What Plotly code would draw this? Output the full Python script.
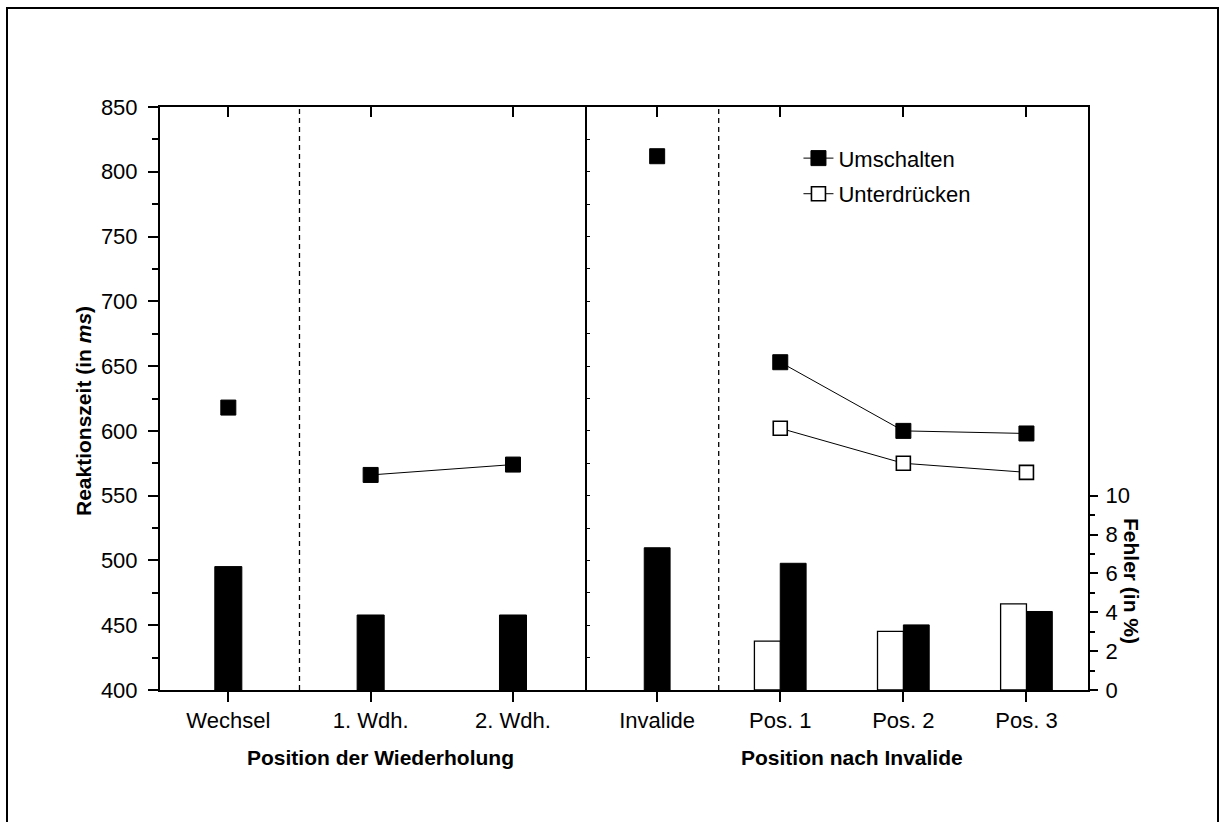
import plotly.graph_objects as go

# ---- data ----
cats_left = ["Wechsel", "1. Wdh.", "2. Wdh."]
cats_right = ["Invalide", "Pos. 1", "Pos. 2", "Pos. 3"]

rt_umschalten_left = [618, 566, 574]
rt_umschalten_right = [812, 653, 600, 598]
rt_unterdruecken_right = [None, 602, 575, 568]

err_umschalten_left = [6.35, 3.86, 3.86]
err_umschalten_right = [7.32, 6.52, 3.35, 4.04]
err_unterdruecken_right = [None, 2.52, 3.02, 4.43]

rt_ticks = [400, 450, 500, 550, 600, 650, 700, 750, 800, 850]
err_ticks = [0, 2, 4, 6, 8, 10]
err_minor = [1, 3, 5, 7, 9]

FONT = "Liberation Sans, Arial, sans-serif"
idx_l = list(range(len(cats_left)))
idx_r = list(range(len(cats_right)))

fig = go.Figure()

# bars (error rates) on right axis
fig.add_trace(go.Bar(x=idx_l, y=err_umschalten_left, xaxis="x", yaxis="y2", width=0.19,
                     marker=dict(color="black", line=dict(color="black", width=1)),
                     showlegend=False))
fig.add_trace(go.Bar(x=idx_r, y=err_umschalten_right, xaxis="x2", yaxis="y2", width=0.21,
                     offset=[-0.105, 0, 0, 0],
                     marker=dict(color="black", line=dict(color="black", width=1)),
                     showlegend=False))
fig.add_trace(go.Bar(x=idx_r[1:], y=err_unterdruecken_right[1:], xaxis="x2", yaxis="y2", width=0.21,
                     offset=-0.21,
                     marker=dict(color="white", line=dict(color="black", width=1.3)),
                     showlegend=False))

mk_fill = dict(symbol="square", size=15, color="black", line=dict(color="black", width=1))
mk_open = dict(symbol="square", size=14, color="white", line=dict(color="black", width=1.6))
ln = dict(color="black", width=1)

# reaction times, left panel
fig.add_trace(go.Scatter(x=idx_l[:1], y=rt_umschalten_left[:1], xaxis="x", yaxis="y",
                         mode="markers", marker=mk_fill, showlegend=False))
fig.add_trace(go.Scatter(x=idx_l[1:], y=rt_umschalten_left[1:], xaxis="x", yaxis="y",
                         mode="lines+markers", marker=mk_fill, line=ln, showlegend=False))
# right panel
fig.add_trace(go.Scatter(x=idx_r[:1], y=rt_umschalten_right[:1], xaxis="x2", yaxis="y",
                         mode="markers", marker=mk_fill, showlegend=False))
fig.add_trace(go.Scatter(x=idx_r[1:], y=rt_umschalten_right[1:], xaxis="x2", yaxis="y",
                         mode="lines+markers", marker=mk_fill, line=ln, name="Umschalten",
                         legendgroup="a"))
fig.add_trace(go.Scatter(x=idx_r[1:], y=rt_unterdruecken_right[1:], xaxis="x2", yaxis="y",
                         mode="lines+markers", marker=mk_open, line=ln, name="Unterdrücken",
                         legendgroup="b"))

# empty helper traces so the frame axes (top ticks, middle divider) get drawn
for xa, ya in [("x3", "y"), ("x4", "y"), ("x2", "y3")]:
    fig.add_trace(go.Scatter(x=[None], y=[None], xaxis=xa, yaxis=ya, mode="markers",
                             showlegend=False, hoverinfo="skip"))

split = 427 / 928
axis_common = dict(showline=True, linecolor="black", linewidth=2, showgrid=False,
                   zeroline=False, tickcolor="black", tickwidth=1.5,
                   tickfont=dict(family=FONT, size=22, color="black"))
frame_common = dict(showline=True, linecolor="black", linewidth=2, showgrid=False,
                    zeroline=False, tickcolor="black", showticklabels=False)

fig.update_layout(
    width=1223, height=822,
    margin=dict(l=160, r=135, t=107, b=132),
    paper_bgcolor="white", plot_bgcolor="white",
    barmode="overlay",
    font=dict(family=FONT, color="black"),
    xaxis=dict(domain=[0, split], range=[-0.48, 2.52], anchor="y",
               tickvals=idx_l, ticktext=cats_left, ticks="outside", ticklen=10,
               **axis_common),
    xaxis2=dict(domain=[split, 1], range=[-0.57, 3.5], anchor="y",
                tickvals=idx_r, ticktext=cats_right, ticks="outside", ticklen=10,
                **axis_common),
    xaxis3=dict(overlaying="x", side="top", anchor="y", range=[-0.48, 2.52],
                tickvals=idx_l, ticks="inside", ticklen=10, tickwidth=1.5, **frame_common),
    xaxis4=dict(overlaying="x2", side="top", anchor="y", range=[-0.57, 3.5],
                tickvals=idx_r, ticks="inside", ticklen=10, tickwidth=1.5, **frame_common),
    yaxis=dict(range=[400, 850], anchor="x", side="left", tickvals=rt_ticks,
               ticks="outside", ticklen=10, ticklabelstandoff=6,
               minor=dict(dtick=25, ticks="outside", ticklen=6, tickcolor="black", tickwidth=1.5),
               **axis_common),
    yaxis2=dict(range=[0, 30], overlaying="y", anchor="x2", side="right",
                tickvals=err_ticks, ticks="outside", ticklen=8, ticklabelstandoff=3,
                minor=dict(tickvals=err_minor, ticks="outside", ticklen=5,
                           tickcolor="black", tickwidth=1.5),
                **axis_common),
    yaxis3=dict(range=[400, 850], overlaying="y", anchor="x2", side="left",
                dtick=25, ticks="inside", ticklen=3, tickwidth=1, **frame_common),
    legend=dict(x=0.688, y=0.948, xanchor="left", yanchor="top",
                font=dict(family=FONT, size=22, color="black"),
                bgcolor="rgba(0,0,0,0)", tracegroupgap=4, traceorder="grouped"),
    shapes=[
        dict(type="line", xref="x", yref="y domain", x0=0.5, x1=0.5, y0=0, y1=1,
             line=dict(color="black", width=1.3, dash="5px,4px")),
        dict(type="line", xref="x2", yref="y domain", x0=0.5, x1=0.5, y0=0, y1=1,
             line=dict(color="black", width=1.3, dash="5px,4px")),
        dict(type="rect", xref="paper", yref="paper", x0=(7 - 160) / 928, x1=(1218 - 160) / 928,
             y0=(690 - 840) / 583, y1=(690 - 8) / 583, line=dict(color="black", width=2),
             fillcolor="rgba(0,0,0,0)", layer="below"),
    ],
    annotations=[
        dict(text="<b>Reaktionszeit (in <i>ms</i>)</b>", xref="paper", yref="paper",
             x=(83 - 160) / 928, y=(690 - 411) / 583, textangle=-90, showarrow=False,
             xanchor="center", yanchor="middle",
             font=dict(family=FONT, size=21, color="black")),
        dict(text="<b>Fehler (in %)</b>", xref="paper", yref="paper",
             x=(1132 - 160) / 928, y=(690 - 581) / 583, textangle=90, showarrow=False,
             xanchor="center", yanchor="middle",
             font=dict(family=FONT, size=21, color="black")),
        dict(text="<b>Position der Wiederholung</b>", xref="paper", yref="paper",
             x=(380 - 160) / 928, y=(690 - 757) / 583, showarrow=False,
             xanchor="center", yanchor="middle",
             font=dict(family=FONT, size=21, color="black")),
        dict(text="<b>Position nach Invalide</b>", xref="paper", yref="paper",
             x=(852 - 160) / 928, y=(690 - 757) / 583, showarrow=False,
             xanchor="center", yanchor="middle",
             font=dict(family=FONT, size=21, color="black")),
    ],
)

fig.write_html("out.html")
